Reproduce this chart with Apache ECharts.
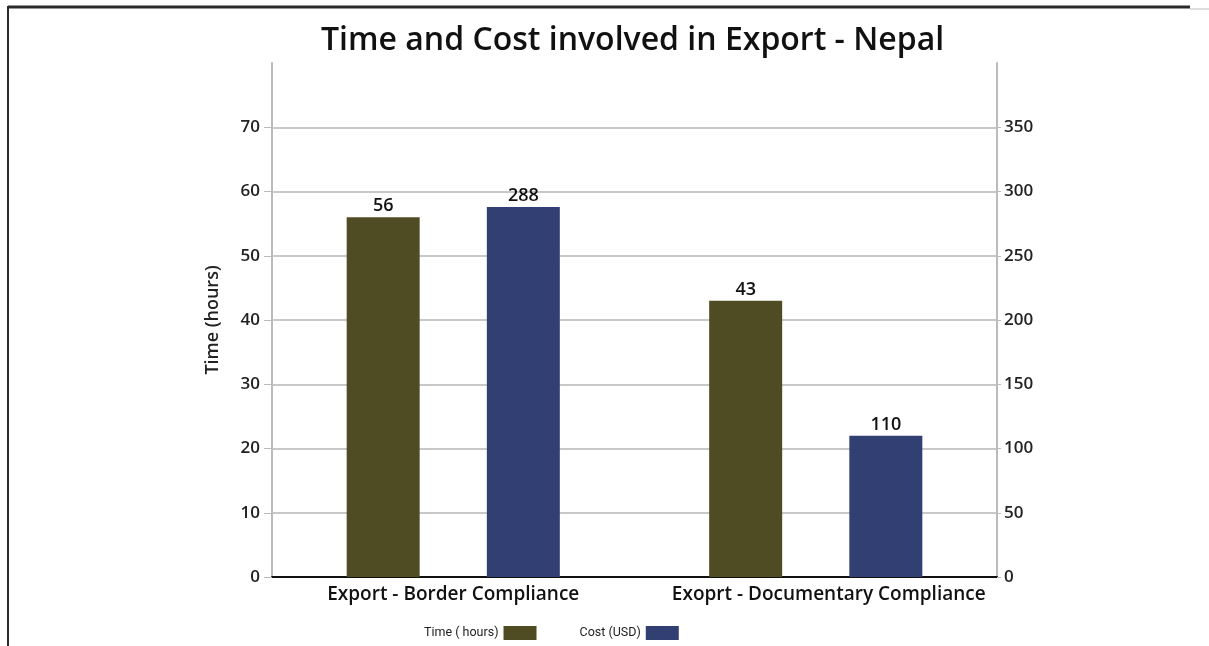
<!DOCTYPE html>
<html>
<head>
<meta charset="utf-8">
<script src="https://cdn.jsdelivr.net/npm/echarts@6/dist/echarts.min.js"></script>
<style>
html,body{margin:0;padding:0;background:#fff;}
#main{width:1209px;height:646px;}
</style>
</head>
<body>
<div id="main"></div>
<script>
var categories = ['Export - Border Compliance', 'Exoprt - Documentary Compliance'];
var timeHours = [56, 43];
var costUSD = [288, 110];
var seriesNames = ['Time ( hours)', 'Cost (USD)'];
var titleText = 'Time and Cost involved in Export - Nepal';
var leftAxisName = 'Time (hours)';

var chart = echarts.init(document.getElementById('main'), null, {renderer: 'canvas'});
var FONT = '"Open Sans", "Noto Sans", sans-serif';
var tickLabel = {color: '#222', fontSize: 17, fontWeight: 600, fontFamily: FONT};
var catStyle = {color: '#111', fontSize: 19, fontWeight: 600, fontFamily: FONT};

chart.setOption({
  backgroundColor: '#ffffff',
  animation: false,
  title: {
    text: titleText,
    left: 316,
    top: 20,
    textStyle: {color: '#111', fontSize: 32, fontWeight: 600, fontFamily: FONT}
  },
  legend: {
    data: seriesNames,
    left: 424,
    top: 626,
    padding: 0,
    align: 'right',
    icon: 'rect',
    itemWidth: 33,
    itemHeight: 14,
    itemGap: 43,
    textStyle: {color: '#222', fontSize: 12.5, fontFamily: '"Liberation Sans Narrow", "Roboto", sans-serif'}
  },
  grid: {left: 272, right: 212, top: 63, bottom: 69, containLabel: false},
  xAxis: {
    type: 'category',
    data: categories,
    axisLine: {show: true, lineStyle: {color: '#111', width: 2}},
    axisTick: {show: false},
    axisLabel: {
      margin: 8, interval: 0,
      formatter: function (v, i) { return i === 1 ? '{b|' + v + '}' : '{a|' + v + '}'; },
      rich: {
        a: Object.assign({}, catStyle),
        b: Object.assign({padding: [0, 0, 0, 26]}, catStyle)
      }
    }
  },
  yAxis: [
    {
      type: 'value',
      min: 0, max: 80, interval: 10,
      name: leftAxisName,
      nameLocation: 'middle',
      nameGap: 50,
      nameTextStyle: {color: '#222', fontSize: 18, fontWeight: 600, fontFamily: FONT},
      axisLine: {show: true, lineStyle: {color: '#bbb', width: 2}},
      axisTick: {show: true, length: 8, lineStyle: {color: '#bbb'}},
      axisLabel: Object.assign({showMaxLabel: false, margin: 12}, tickLabel),
      splitLine: {show: true, showMaxLine: false, lineStyle: {color: '#c8c8c8', width: 2}}
    },
    {
      type: 'value',
      min: 0, max: 400, interval: 50,
      position: 'right',
      axisLine: {show: true, lineStyle: {color: '#bbb', width: 2}},
      axisTick: {show: true, length: 4, lineStyle: {color: '#bbb'}},
      axisLabel: Object.assign({showMaxLabel: false, margin: 7}, tickLabel),
      splitLine: {show: false}
    }
  ],
  series: [
    {
      name: seriesNames[0],
      type: 'bar',
      yAxisIndex: 0,
      data: timeHours,
      barWidth: 73,
      barGap: '92%',
      itemStyle: {color: '#4f4c23'},
      label: {show: true, position: 'top', distance: 2, color: '#111', fontSize: 18, fontWeight: 600, fontFamily: FONT}
    },
    {
      name: seriesNames[1],
      type: 'bar',
      yAxisIndex: 1,
      data: costUSD,
      barWidth: 73,
      barGap: '92%',
      itemStyle: {color: '#323f73'},
      label: {show: true, position: 'top', distance: 2, color: '#111', fontSize: 18, fontWeight: 600, fontFamily: FONT}
    }
  ],
  graphic: [
    {type: 'line', shape: {x1: 8, y1: 7, x2: 1190, y2: 7}, style: {stroke: '#2a2a2a', lineWidth: 3}, silent: true},
    {type: 'line', shape: {x1: 1190, y1: 9, x2: 1209, y2: 9}, style: {stroke: '#bbb', lineWidth: 1}, silent: true},
    {type: 'line', shape: {x1: 8, y1: 6, x2: 8, y2: 646}, style: {stroke: '#2a2a2a', lineWidth: 2}, silent: true}
  ]
});
</script>
</body>
</html>
